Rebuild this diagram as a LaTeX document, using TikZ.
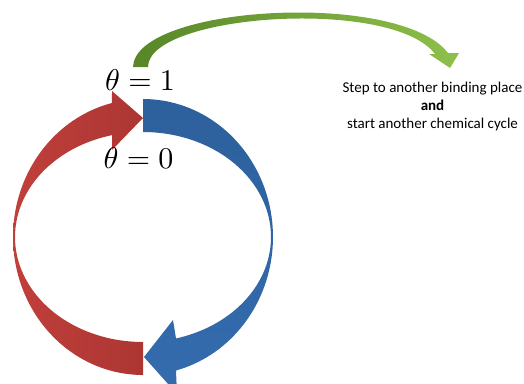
\documentclass[tikz,border=0pt]{standalone}
\usepackage{fontspec}
\newfontfamily\carl{Carlito}
\definecolor{redA}{RGB}{192,63,59}
\definecolor{redB}{RGB}{172,54,51}
\definecolor{blueA}{RGB}{45,96,156}
\definecolor{blueB}{RGB}{52,108,174}
\definecolor{greenA}{RGB}{88,134,40}
\definecolor{greenB}{RGB}{142,192,74}
\tikzset{
  redarrow/.style={left color=redA, right color=redB, draw=none},
  bluearrow/.style={top color=blueA, bottom color=blueB, draw=none},
  greenarrow/.style={left color=greenA, right color=greenB, draw=none},
  theta/.style={scale=3, anchor=base, inner sep=0pt},
  note/.style={font=\carl\fontsize{15}{18}\selectfont, anchor=base, inner sep=0pt}
}
\begin{document}
\begin{tikzpicture}[x=1pt,y=-1pt]
\useasboundingbox (0,0) rectangle (524,383);
\clip (0,0) rectangle (524,383);
% blue arc (right half, arrow at bottom)
\path[bluearrow]
  plot[domain=-90:75.3, samples=80] ({143+130*cos(\x)},{237+138*sin(\x)})
  -- (177,394) -- (144,357) -- (173,320) -- (176,338.5)
  -- plot[domain=75.06:-90, samples=80] ({143+128*cos(\x)},{237+105*sin(\x)})
  -- cycle;
% red arc (left half, arrow at top)
\path[redarrow]
  plot[domain=90:256.2, samples=80] ({143+130*cos(\x)},{237+138*sin(\x)})
  -- (112,91) -- (143,118) -- (112,150) -- (112,135)
  -- plot[domain=256:90, samples=80] ({143+128*cos(\x)},{237+105*sin(\x)})
  -- cycle;
% green arrow
\path[greenarrow]
  (133,67) .. controls (135,5) and (400,-10) .. (448,53)
  -- (459,53) -- (450,68) -- (429,54) -- (435,54)
  .. controls (392,-3) and (148,14) .. (148,67) -- cycle;
% labels
\node[theta] (t1) at (140,90) {$\theta = 1$};
\node[theta] (t0) at (138.5,168.5) {$\theta = 0$};
\node[note] (n1) at (432.5,92.5) {Step to another binding place};
\node[note] (n2) at (432.5,110.5) {\bfseries and};
\node[note] (n3) at (432.5,128.5) {start another chemical cycle};
\end{tikzpicture}
\end{document}
